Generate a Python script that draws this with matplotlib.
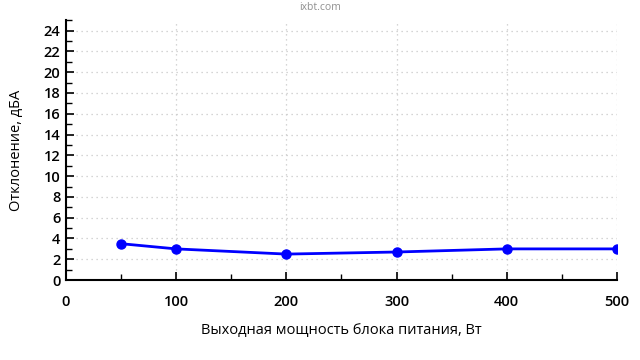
import matplotlib
matplotlib.use("Agg")
import matplotlib.pyplot as plt
from matplotlib.ticker import MultipleLocator

# Data
power_w = [50, 100, 200, 300, 400, 500]
deviation_dba = [3.5, 3.0, 2.5, 2.7, 3.0, 3.0]

plt.rcParams["font.family"] = ["Open Sans", "DejaVu Sans"]

fig = plt.figure(figsize=(6.4, 3.6), dpi=100)
ax = fig.add_axes([0.103, 0.222, 0.861, 0.722])

ax.plot(power_w, deviation_dba, color="#0000ff", linewidth=2,
        marker="o", markersize=6.5, zorder=3)

ax.set_xlim(0, 500)
ax.set_ylim(0, 25)
ax.xaxis.set_major_locator(MultipleLocator(100))
ax.xaxis.set_minor_locator(MultipleLocator(50))
ax.yaxis.set_major_locator(MultipleLocator(2))
ax.yaxis.set_minor_locator(MultipleLocator(1))

ax.spines["top"].set_visible(False)
ax.spines["right"].set_visible(False)
for s in ("left", "bottom"):
    ax.spines[s].set_linewidth(1.5)

ax.tick_params(which="major", direction="in", length=6, width=1.2,
               labelsize=10.5, pad=4)
ax.tick_params(which="minor", direction="in", length=4, width=1.0)
ax.tick_params(axis="x", which="major", pad=11)
for lab in ax.get_xticklabels() + ax.get_yticklabels():
    lab.set_fontweight("semibold")

ax.grid(True, which="major", color="#c8c8c8", linestyle=(0, (1, 3)),
        linewidth=0.9)

ax.set_xlabel("Выходная мощность блока питания, Вт", fontsize=10.5, labelpad=10)
ax.set_ylabel("Отклонение, дБА", fontsize=10.5, labelpad=14)

fig.text(0.5, 0.978, "ixbt.com", ha="center", va="center",
         fontsize=7.5, color="#909090")

fig.savefig("out.png", dpi=100)
